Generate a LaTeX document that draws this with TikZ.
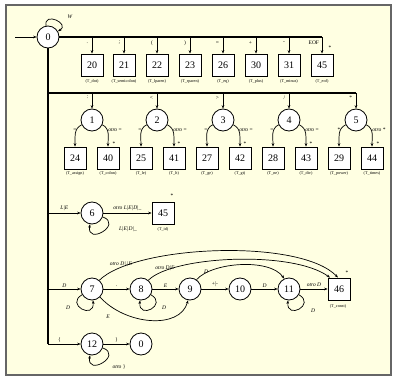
\documentclass[tikz,border=0pt]{standalone}
\usepackage{fontspec}
\setmainfont{Liberation Serif}
\usetikzlibrary{arrows.meta,shadows}
\definecolor{bgy}{RGB}{255,255,226}
\begin{document}
\begin{tikzpicture}[x=1pt,y=1pt,
  st/.style={circle,draw,line width=0.8pt,fill=white,minimum size=22pt,inner sep=0pt,font=\fontsize{10}{10}\selectfont},
  fin/.style={rectangle,draw,line width=0.8pt,fill=white,minimum size=22pt,inner sep=0pt,font=\fontsize{10}{10}\selectfont,
    drop shadow={shadow xshift=0.9pt,shadow yshift=-0.9pt,fill=black!55,opacity=1}},
  tok/.style={font=\fontsize{4.2}{5}\selectfont,inner sep=0pt},
  lab/.style={font=\fontsize{5.5}{6}\selectfont,inner sep=0.6pt},
  trunk/.style={line width=1.1pt},
  arr/.style={line width=0.7pt,-{Stealth[length=3.5pt,width=2.6pt]}},
]
\useasboundingbox (0,0) rectangle (396,-377);
\fill[white] (0,0) rectangle (396,-377);
\draw[line width=1.4pt,draw=black!60,fill=bgy] (6,-5) rectangle (391,-375);

% ---------------- state 0 and top row
\node[st] (s0) at (48,-37) {0};
\coordinate (init) at (15,-37);
\draw[arr] (init) -- (s0);
\draw[arr] (s0.100) .. controls +(100:15) and +(30:15) .. (s0.30);
\node[lab] at (70,-17) {\textit{W}};

\coordinate (t20) at (92,-37);
\coordinate (t21) at (124,-37);
\coordinate (t22) at (157,-37);
\coordinate (t23) at (190,-37);
\coordinate (t26) at (223,-37);
\coordinate (t30) at (256,-37);
\coordinate (t31) at (289,-37);
\coordinate (t45) at (322,-37);
\draw[trunk] (s0.east) -- (t45);

\node[fin] (b20) at (92,-65) {20};
\node[fin] (b21) at (124,-65) {21};
\node[fin] (b22) at (157,-65) {22};
\node[fin] (b23) at (190,-65) {23};
\node[fin] (b26) at (223,-65) {26};
\node[fin] (b30) at (256,-65) {30};
\node[fin] (b31) at (289,-65) {31};
\node[fin] (b45) at (322,-65) {45};

\node[tok] (k20) at (92,-81) {(T\_dot)};
\node[tok] (k21) at (124,-81) {(T\_semicolon)};
\node[tok] (k22) at (157,-81) {(T\_lparen)};
\node[tok] (k23) at (190,-81) {(T\_rparen)};
\node[tok] (k26) at (223,-81) {(T\_eq)};
\node[tok] (k30) at (256,-81) {(T\_plus)};
\node[tok] (k31) at (289,-81) {(T\_minus)};
\node[tok] (k45) at (322,-81) {(T\_eof)};

\draw[arr] (t20) -- node[lab,left=3pt,pos=0.35]{.} (b20);
\draw[arr] (t21) -- node[lab,left=3pt,pos=0.35]{;} (b21);
\draw[arr] (t22) -- node[lab,left=3pt,pos=0.35]{(} (b22);
\draw[arr] (t23) -- node[lab,left=3pt,pos=0.35]{)} (b23);
\draw[arr] (t26) -- node[lab,left=3pt,pos=0.35]{=} (b26);
\draw[arr] (t30) -- node[lab,left=3pt,pos=0.35]{+} (b30);
\draw[arr] (t31) -- node[lab,left=3pt,pos=0.35]{-} (b31);
\draw[arr] (t45) -- node[lab,left=2pt,pos=0.35]{EOF} (b45);
\node[lab] at (330,-48) {*};

% ---------------- vertical trunk and second row
\coordinate (c93) at (48,-93);
\coordinate (c93e) at (356,-93);
\coordinate (c213) at (48,-213);
\coordinate (c289) at (48,-289);
\coordinate (c344) at (48,-344);
\draw[trunk] (s0.south) -- (c344);
\draw[trunk] (c93) -- (c93e);

\node[st] (s1) at (92,-120) {1};
\node[st] (s2) at (157,-120) {2};
\node[st] (s3) at (223,-120) {3};
\node[st] (s4) at (289,-120) {4};
\node[st] (s5) at (356,-120) {5};

\coordinate (u1) at (92,-93);
\coordinate (u2) at (157,-93);
\coordinate (u3) at (223,-93);
\coordinate (u4) at (289,-93);
\draw[arr] (u1) -- node[lab,left=3pt,pos=0.3]{:} (s1);
\draw[arr] (u2) -- node[lab,left=3pt,pos=0.3]{<} (s2);
\draw[arr] (u3) -- node[lab,left=3pt,pos=0.3]{>} (s3);
\draw[arr] (u4) -- node[lab,left=3pt,pos=0.3]{/} (s4);
\draw[arr] (c93e) -- node[lab,left=3pt,pos=0.3]{*} (s5);

\node[fin] (b24) at (75,-158) {24};
\node[fin] (b40) at (108,-158) {40};
\node[fin] (b25) at (141,-158) {25};
\node[fin] (b41) at (174,-158) {41};
\node[fin] (b27) at (207,-158) {27};
\node[fin] (b42) at (240,-158) {42};
\node[fin] (b28) at (273,-158) {28};
\node[fin] (b43) at (306,-158) {43};
\node[fin] (b29) at (339,-158) {29};
\node[fin] (b44) at (372,-158) {44};

\node[tok] (k24) at (75,-173) {(T\_assign)};
\node[tok] (k40) at (108,-173) {(T\_colon)};
\node[tok] (k25) at (141,-173) {(T\_le)};
\node[tok] (k41) at (174,-173) {(T\_lt)};
\node[tok] (k27) at (207,-173) {(T\_ge)};
\node[tok] (k42) at (240,-173) {(T\_gt)};
\node[tok] (k28) at (273,-173) {(T\_ne)};
\node[tok] (k43) at (306,-173) {(T\_div)};
\node[tok] (k29) at (339,-173) {(T\_power)};
\node[tok] (k44) at (372,-173) {(T\_times)};

\draw[arr] (s1) to[out=205,in=90] (b24);
\draw[arr] (s1) to[out=-25,in=90] (b40);
\draw[arr] (s2) to[out=205,in=90] (b25);
\draw[arr] (s2) to[out=-25,in=90] (b41);
\draw[arr] (s3) to[out=205,in=90] (b27);
\draw[arr] (s3) to[out=-25,in=90] (b42);
\draw[arr] (s4) to[out=205,in=90] (b28);
\draw[arr] (s4) to[out=-25,in=90] (b43);
\draw[arr] (s5) to[out=205,in=90] (b29);
\draw[arr] (s5) to[out=-25,in=90] (b44);

\node[lab] at (75,-130) {=};
\node[lab] at (115,-130) {\textit{otro} =};
\node[lab] at (114,-144) {*};
\node[lab] at (140,-130) {=};
\node[lab] at (180,-130) {\textit{otro} =};
\node[lab] at (179,-144) {*};
\node[lab] at (206,-130) {=};
\node[lab] at (246,-130) {\textit{otro} =};
\node[lab] at (245,-144) {*};
\node[lab] at (272,-130) {=};
\node[lab] at (312,-130) {\textit{otro} =};
\node[lab] at (311,-144) {*};
\node[lab] at (339,-130) {*};
\node[lab] at (379,-130) {\textit{otro} *};
\node[lab] at (378,-144) {*};

% ---------------- identifier row
\node[st] (s6) at (92,-213) {6};
\node[fin] (b45b) at (163,-213) {45};
\node[tok] (k45b) at (163,-229) {(T\_id)};
\draw[arr] (c213) -- node[lab,above=1pt]{\textit{L|E}} (s6);
\draw[arr] (s6) -- node[lab,above=1pt]{\textit{otro L|E|D|\_}} (b45b);
\draw[arr] (s6.-20) .. controls +(-20:22) and +(-100:22) .. (s6.-100);
\node[lab] at (128,-229) {\textit{L|E|D|\_}};
\node[lab] at (172,-196) {*};

% ---------------- number row
\node[st] (s7) at (92,-289) {7};
\node[st] (s8) at (141,-289) {8};
\node[st] (s9) at (190,-289) {9};
\node[st] (s10) at (240,-289) {10};
\node[st] (s11) at (289,-289) {11};
\node[fin] (b46) at (339,-289) {46};
\node[tok] (k46) at (338,-306) {(T\_const)};
\node[lab] at (347,-273) {*};

\draw[arr] (c289) -- node[lab,above=1pt]{\textit{D}} (s7);
\draw[arr] (s7) -- node[lab,above=1pt]{.} (s8);
\draw[arr] (s8) -- node[lab,above=1pt]{\textit{E}} (s9);
\draw[arr] (s9) -- node[lab,above=1pt]{+|-} (s10);
\draw[arr] (s10) -- node[lab,above=1pt]{\textit{D}} (s11);
\draw[arr] (s11) -- node[lab,above=1pt]{\textit{otro D}} (b46);

\draw[arr] (s7.-150) .. controls +(-150:20) and +(-85:20) .. (s7.-85);
\node[lab] at (68,-308) {\textit{D}};
\draw[arr] (s8.-30) .. controls +(-30:20) and +(-95:20) .. (s8.-95);
\node[lab] at (164,-308) {\textit{D}};
\draw[arr] (s11.-30) .. controls +(-30:20) and +(-95:20) .. (s11.-95);
\node[lab] at (313,-311) {\textit{D}};

\draw[arr] (s7.-45) .. controls (125,-325) and (180,-330) .. (s9.-100);
\node[lab] at (108,-317) {\textit{E}};

\draw[arr] (s9.55) .. controls (212,-262) and (270,-258) .. (s11.115);
\node[lab] at (206,-272) {\textit{D}};
\draw[arr] (s8.50) .. controls (172,-256) and (292,-250) .. ([xshift=-9pt]b46.north);
\node[lab] at (165,-268) {\textit{otro D|E}};
\draw[arr] (s7.50) .. controls (135,-245) and (300,-238) .. ([xshift=-1pt]b46.north);
\node[lab] at (121,-264) {\textit{otro D|.|E}};

% ---------------- comment row
\node[st] (s12) at (92,-344) {12};
\node[st] (s0b) at (141,-344) {0};
\draw[arr] (c344) -- node[lab,above=1pt,pos=0.35]{\{} (s12);
\draw[arr] (s12) -- node[lab,above=1pt]{\}} (s0b);
\draw[arr] (s12.-20) .. controls +(-20:22) and +(-100:22) .. (s12.-100);
\node[lab] at (119,-367) {\textit{otro} \}};
\end{tikzpicture}
\end{document}
